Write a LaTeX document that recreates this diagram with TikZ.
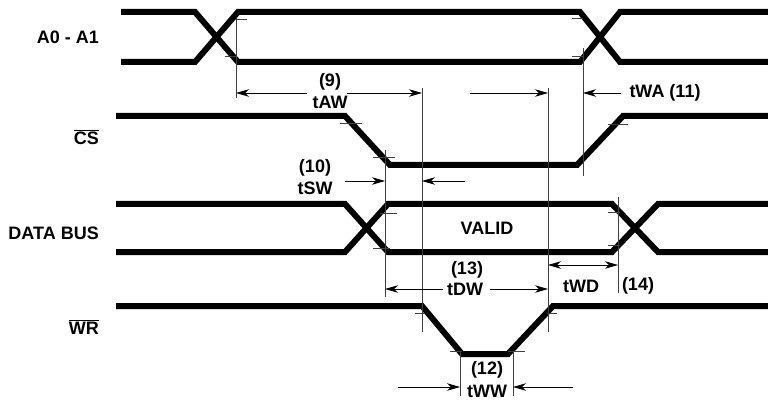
\documentclass[tikz,border=0pt]{standalone}
\usepackage{fontspec}
\setmainfont{Liberation Sans}
\usetikzlibrary{arrows.meta}

\tikzset{
  wave/.style={line width=6pt, line join=miter},
  guide/.style={line width=0.8pt, black!75},
  dim/.style={line width=0.8pt},
  lbl/.style={font=\bfseries\fontsize{18}{20}\selectfont, inner sep=0pt},
}

\begin{document}
\begin{tikzpicture}[x=1pt, y=-1pt, >={Stealth[length=13pt,width=7.5pt,inset=4pt]}]
\useasboundingbox (0,0) rectangle (768,406);

% signal levels
\def\yah{12}
\def\yal{62}
\def\ycs{116}
\def\ycl{165}
\def\ydh{204}
\def\ydl{252}
\def\ywh{306}
\def\ywl{354}

% signal names
\node[lbl, anchor=east] (addr) at (99,37) {A0 - A1};
\node[lbl, anchor=east] (cs) at (99,137) {$\overline{\mbox{CS}}$};
\node[lbl, anchor=east] (bus) at (99,233) {DATA BUS};
\node[lbl, anchor=east] (wr) at (99,327) {$\overline{\mbox{WR}}$};

% waveforms
\draw[wave] (121,\yah) -- (195,\yah) -- (238,\yal) -- (580,\yal) -- (620,\yah) -- (768,\yah);
\draw[wave] (121,\yal) -- (195,\yal) -- (238,\yah) -- (580,\yah) -- (620,\yal) -- (768,\yal);

\draw[wave] (116,\ycs) -- (345,\ycs) -- (390,\ycl) -- (577,\ycl) -- (623,\ycs) -- (768,\ycs);

\draw[wave] (116,\ydh) -- (345,\ydh) -- (388,\ydl) -- (612,\ydl) -- (658,\ydh) -- (768,\ydh);
\draw[wave] (116,\ydl) -- (345,\ydl) -- (388,\ydh) -- (612,\ydh) -- (658,\ydl) -- (768,\ydl);
\node[lbl] (valid) at (487,228) {VALID};

\draw[wave] (116,\ywh) -- (422,\ywh) -- (462,\ywl) -- (508,\ywl) -- (553,\ywh) -- (768,\ywh);

% reference lines
\draw[guide] (236,18) -- (236,98);
\draw[guide] (422,88) -- (422,332);
\draw[guide] (548,88) -- (548,332);
\draw[guide] (583,48) -- (583,176);
\draw[guide] (385,150) -- (385,297);
\draw[guide] (618,197) -- (618,293);
\draw[guide] (460,352) -- (460,396);
\draw[guide] (513,352) -- (513,396);

% 10/90 marks
\draw[guide] (235,19) -- (247,19);
\draw[guide] (225,56) -- (237,56);
\draw[guide] (572,18) -- (583,18);
\draw[guide] (572,56) -- (584,56);
\draw[guide] (340,123) -- (362,123);
\draw[guide] (373,157) -- (395,157);
\draw[guide] (608,124) -- (628,124);
\draw[guide] (380,213) -- (397,213);
\draw[guide] (373,248) -- (390,248);
\draw[guide] (608,212) -- (620,212);
\draw[guide] (608,245) -- (620,245);
\draw[guide] (415,313) -- (425,313);
\draw[guide] (547,313) -- (557,313);
\draw[guide] (450,351) -- (462,351);
\draw[guide] (508,351) -- (525,351);

% timing labels
\node[lbl] (n9) at (330,82) {(9)};
\node[lbl] (taw) at (330,102) {tAW};
\node[lbl] (twa) at (665,93) {tWA (11)};
\node[lbl] (n10) at (315,168) {(10)};
\node[lbl] (tsw) at (315,188) {tSW};
\node[lbl] (n13) at (467,270) {(13)};
\node[lbl] (tdw) at (465,289) {tDW};
\node[lbl] (twd) at (581,286) {tWD};
\node[lbl] (n14) at (638,286) {(14)};
\node[lbl] (n12) at (487,370) {(12)};
\node[lbl] (tww) at (487,391) {tWW};

% arrow ends
\coordinate (aw1) at (236,93);
\coordinate (aw2) at (307,93);
\coordinate (aw3) at (347,93);
\coordinate (aw4) at (422,93);
\coordinate (mid1) at (470,93);
\coordinate (mid2) at (548,93);
\coordinate (wa1) at (583,93);
\coordinate (wa2) at (621,93);
\coordinate (sw1) at (345,181);
\coordinate (sw2) at (385,181);
\coordinate (sw3) at (422,181);
\coordinate (sw4) at (465,181);
\coordinate (wd1) at (548,265);
\coordinate (wd2) at (618,265);
\coordinate (dw1) at (385,289);
\coordinate (dw2) at (443,289);
\coordinate (dw3) at (490,289);
\coordinate (dw4) at (548,289);
\coordinate (ww1) at (398,387);
\coordinate (ww2) at (460,387);
\coordinate (ww3) at (513,387);
\coordinate (ww4) at (573,387);

\draw[dim, <-] (aw1) -- (aw2);
\draw[dim, ->] (aw3) -- (aw4);
\draw[dim, ->] (mid1) -- (mid2);
\draw[dim, <-] (wa1) -- (wa2);
\draw[dim, ->] (sw1) -- (sw2);
\draw[dim, <-] (sw3) -- (sw4);
\draw[dim, <->] (wd1) -- (wd2);
\draw[dim, <-] (dw1) -- (dw2);
\draw[dim, ->] (dw3) -- (dw4);
\draw[dim, ->] (ww1) -- (ww2);
\draw[dim, <-] (ww3) -- (ww4);

\end{tikzpicture}
\end{document}
